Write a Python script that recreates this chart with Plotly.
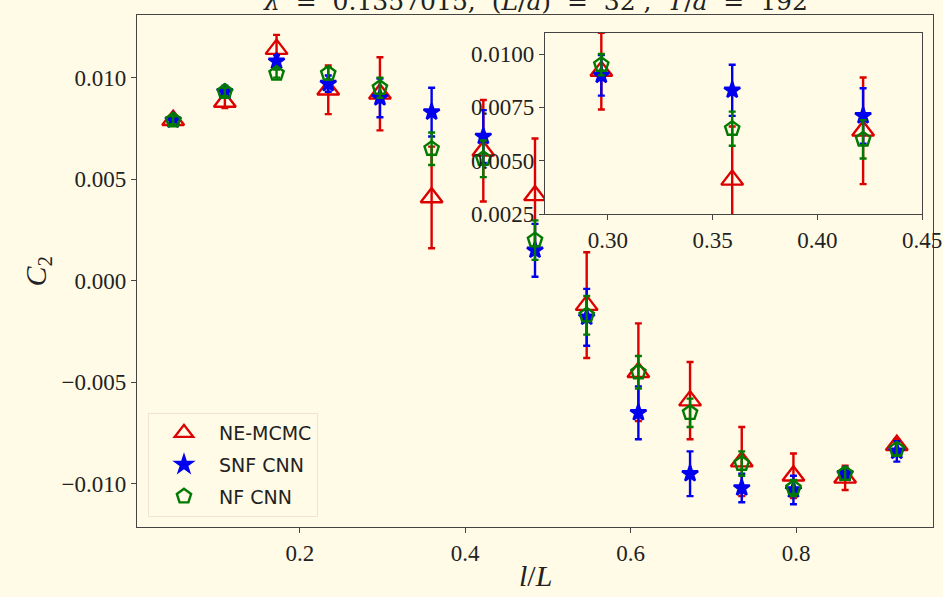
import plotly.graph_objects as go

# ---- data ----
l_over_L = [0.046875, 0.109375, 0.171875, 0.234375, 0.296875, 0.359375, 0.421875, 0.484375,
            0.546875, 0.609375, 0.671875, 0.734375, 0.796875, 0.859375, 0.921875]

ne_mcmc = [0.0079, 0.0088, 0.0114, 0.0094, 0.0092, 0.0041, 0.0064, 0.0042,
           -0.0012, -0.0045, -0.0059, -0.0089, -0.0096, -0.0097, -0.0081]
ne_mcmc_err = [0.0002, 0.0003, 0.0007, 0.0012, 0.0018, 0.0025, 0.0025, 0.0028,
               0.0026, 0.0024, 0.0019, 0.0017, 0.0011, 0.0006, 0.0003]

snf_cnn = [0.0079, 0.0093, 0.0108, 0.0097, 0.0090, 0.0083, 0.0071, 0.0015,
           -0.0018, -0.0065, -0.0095, -0.0102, -0.0103, -0.0095, -0.0084]
snf_cnn_err = [0.0002, 0.0003, 0.0003, 0.0004, 0.00095, 0.0012, 0.0013, 0.0013,
               0.0014, 0.0013, 0.0011, 0.0007, 0.0007, 0.0003, 0.0005]

nf_cnn = [0.0079, 0.0093, 0.0102, 0.0102, 0.0095, 0.0065, 0.0060, 0.0020,
          -0.0017, -0.0045, -0.0065, -0.0090, -0.0102, -0.0095, -0.0083]
nf_cnn_err = [0.0002, 0.0002, 0.0002, 0.0003, 0.0005, 0.0008, 0.0009, 0.00097,
              0.00095, 0.0008, 0.0007, 0.0006, 0.0004, 0.0003, 0.0003]

main_xticks = [0.2, 0.4, 0.6, 0.8]
main_xticktext = ["0.2", "0.4", "0.6", "0.8"]
main_yticks = [-0.010, -0.005, 0.000, 0.005, 0.010]
main_yticktext = ["\u22120.010", "\u22120.005", "0.000", "0.005", "0.010"]
inset_xticks = [0.30, 0.35, 0.40, 0.45]
inset_xticktext = ["0.30", "0.35", "0.40", "0.45"]
inset_yticks = [0.0025, 0.0050, 0.0075, 0.0100]
inset_yticktext = ["0.0025", "0.0050", "0.0075", "0.0100"]

title_text = "<i>λ</i>  =  0.1357015,  (<i>L</i>/<i>a</i>)  =  32 ,  <i>T</i>/<i>a</i>  =  192"

# ---- style ----
BG = "#fffbe6"
RED = "#dd0000"
BLUE = "#0000ee"
GREEN = "#007a00"
SERIF = "Liberation Serif"
SANS = "DejaVu Sans"

series = [
    ("NE-MCMC", ne_mcmc, ne_mcmc_err, RED, "triangle-up-open", 19),
    ("SNF CNN", snf_cnn, snf_cnn_err, BLUE, "star", 12),
    ("NF CNN", nf_cnn, nf_cnn_err, GREEN, "pentagon-open", 15),
]

fig = go.Figure()

for ax_x, ax_y, show in (("x", "y", True), ("x2", "y2", False)):
    for name, vals, errs, col, sym, size in series:
        fig.add_trace(go.Scatter(
            x=l_over_L, y=vals, mode="markers", name=name,
            xaxis=ax_x, yaxis=ax_y, showlegend=show, legendgroup=name,
            marker=dict(symbol=sym, size=size, color=col,
                        line=dict(color=col, width=2.4)),
            error_y=dict(type="data", array=errs, visible=True,
                         color=col, thickness=2.4, width=3.5),
        ))

axis_common = dict(
    showline=True, linecolor="#444444", linewidth=1.2, mirror=True,
    ticks="outside", ticklen=5, tickcolor="#444444", tickwidth=1,
    showgrid=False, zeroline=False, automargin=False,
    tickfont=dict(family=SERIF, size=23, color="#222222"),
)

fig.update_layout(
    width=943, height=597,
    margin=dict(l=137, r=10, t=15, b=70),
    paper_bgcolor=BG, plot_bgcolor=BG,
    xaxis=dict(range=[0.003125, 0.965625], tickvals=main_xticks,
               ticktext=main_xticktext, domain=[0, 1], **axis_common),
    yaxis=dict(range=[-0.01212, 0.01308], tickvals=main_yticks,
               ticktext=main_yticktext, domain=[0, 1], **axis_common),
    xaxis2=dict(range=[0.27, 0.45], tickvals=inset_xticks, ticktext=inset_xticktext,
                domain=[0.5126, 0.9862], anchor="y2", **axis_common),
    yaxis2=dict(range=[0.0025, 0.011], tickvals=inset_yticks, ticktext=inset_yticktext,
                domain=[0.6113, 0.9654], anchor="x2", **axis_common),
    legend=dict(x=0.0138, y=0.0195, xanchor="left", yanchor="bottom",
                bgcolor=BG, bordercolor="#f2e3d3", borderwidth=1,
                font=dict(family=SANS, size=19, color="#222222"),
                itemwidth=60,
                traceorder="grouped", tracegroupgap=4),
    showlegend=True,
    annotations=[
        dict(text="<i>l</i>/<i>L</i>", xref="paper", yref="paper",
             x=0.5, y=-0.094, xanchor="center", yanchor="middle", showarrow=False,
             font=dict(family=SERIF, size=30, color="#222222")),
        dict(text="<i>C</i><sub>2</sub>", xref="paper", yref="paper",
             x=-0.125, y=0.5, xanchor="center", yanchor="middle", showarrow=False,
             textangle=-90, font=dict(family=SERIF, size=30, color="#222222")),
        dict(text=title_text, xref="paper", yref="paper",
             x=0.5, y=1.0255, xanchor="center", yanchor="middle", showarrow=False,
             font=dict(family="DejaVu Serif", size=25, color="#222222")),
    ],
)

fig.write_html("out.html")
